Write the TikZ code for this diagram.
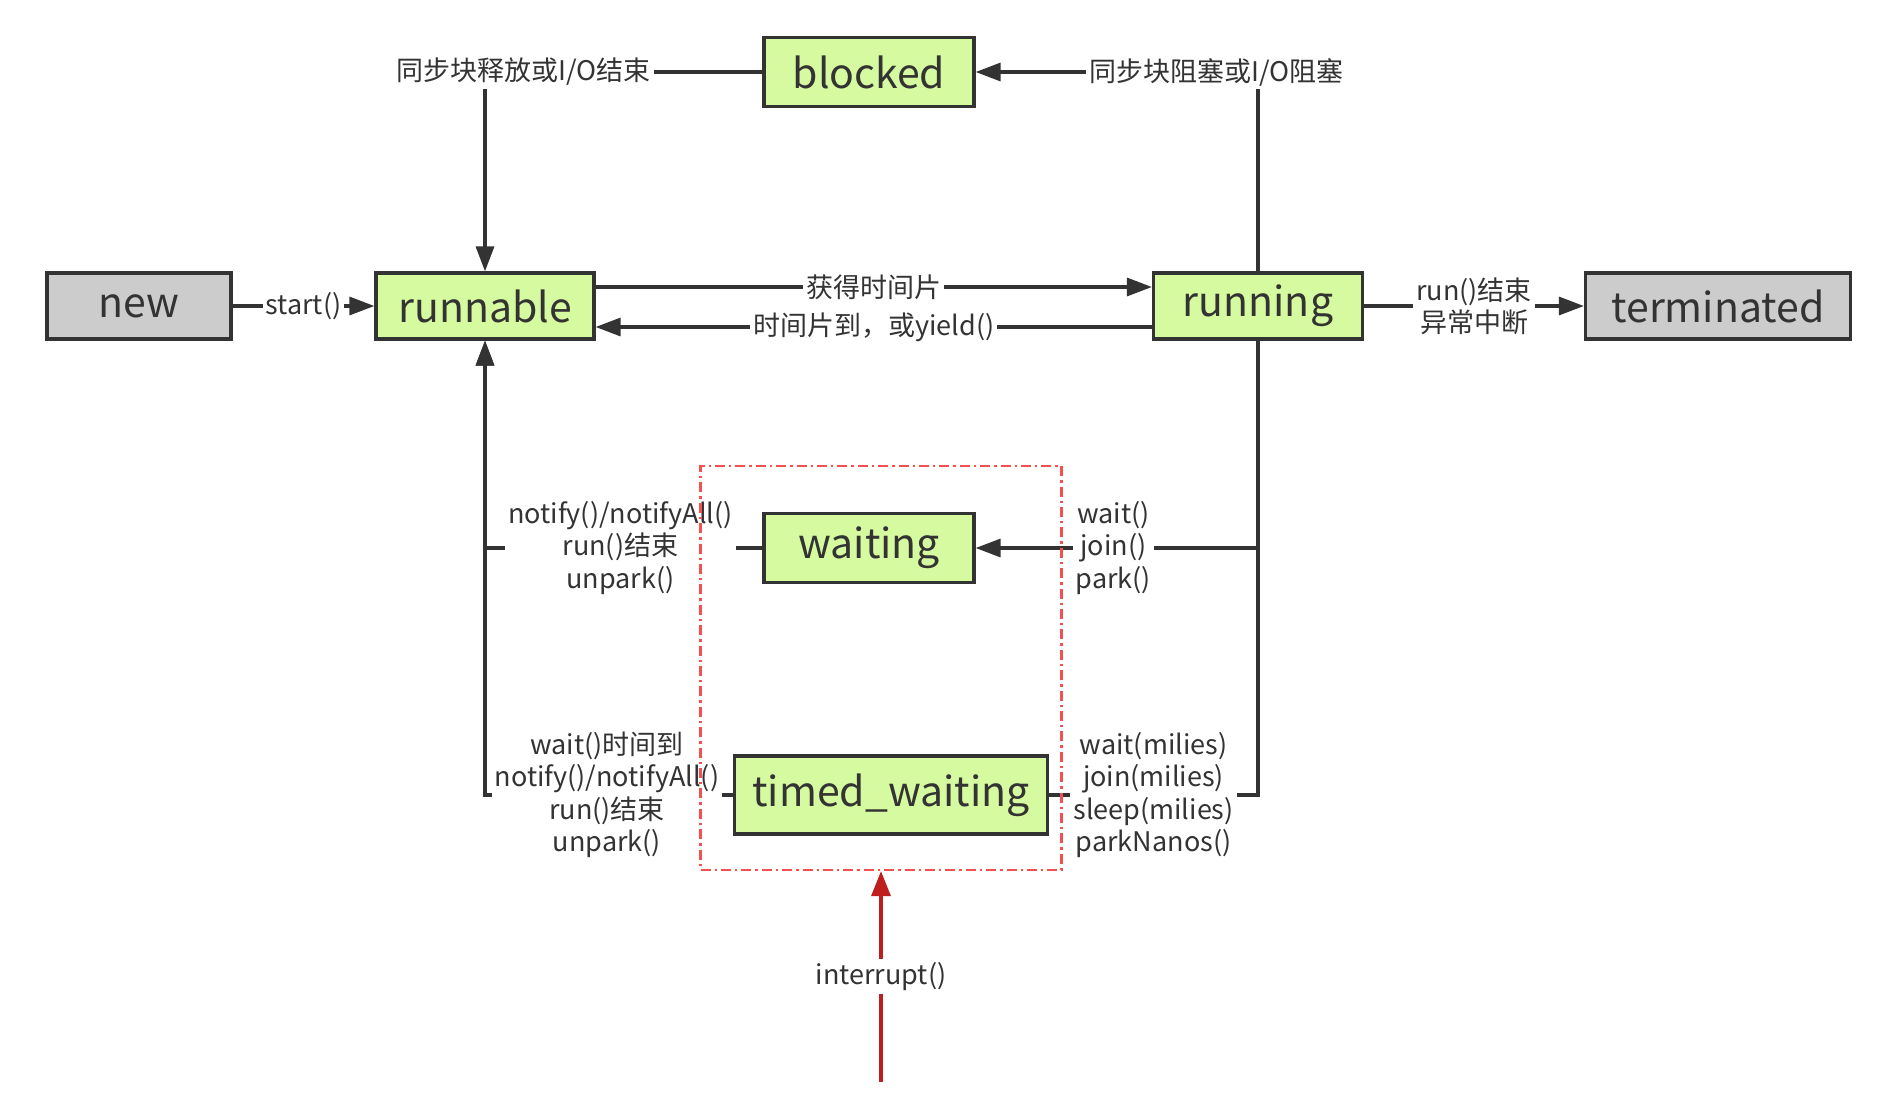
\documentclass[tikz,border=0pt]{standalone}
\usepackage{fontspec}
\setmainfont{Noto Sans CJK SC}
\usetikzlibrary{arrows.meta}
\definecolor{stategreen}{RGB}{214,250,160}
\definecolor{stategray}{RGB}{204,204,204}
\definecolor{inkgray}{RGB}{51,51,51}
\definecolor{framered}{RGB}{245,80,80}
\definecolor{irqred}{RGB}{190,30,30}
\tikzset{
  state/.style    = {shape=rectangle, draw=inkgray, line width=1.6pt,
                     fill=stategreen, text=inkgray, inner sep=0pt,
                     font=\fontsize{20.5}{24}\selectfont},
  endstate/.style = {state, fill=stategray},
  lbl/.style      = {fill=white, inner sep=1.5pt, align=center, text=inkgray,
                     font=\fontsize{13.5}{16.2}\selectfont},
  groupbox/.style = {draw=framered, line width=1.1pt,
                     dash pattern=on 5pt off 2pt on 1.2pt off 2pt}
}

\begin{document}
\begin{tikzpicture}
  [
    x = 0.5pt, y = -0.5pt,
    link/.style       = {draw=inkgray, line width=1.6pt},
    transition/.style = {link, -{Triangle[length=12.5pt,width=9pt]}},
    interrupt/.style  = {draw=irqred, line width=1.7pt,
                         -{Triangle[length=12.5pt,width=9.5pt]}}
  ]
  \fill [white] (0,0) rectangle (1884,1114);
  \useasboundingbox (0,0) rectangle (1884,1114);

  % states
  \node [endstate, minimum width=92pt, minimum height=33pt] (new) at (139,306) {new};
  \node [state, minimum width=109pt, minimum height=33pt] (runnable) at (485,306) {runnable};
  \node [state, minimum width=105pt, minimum height=34.5pt] (blocked) at (869,72) {blocked};
  \node [state, minimum width=104.5pt, minimum height=33pt] (running) at (1258,306) {running};
  \node [endstate, minimum width=132.5pt, minimum height=33pt] (terminated) at (1718,306) {terminated};
  \node [state, minimum width=105pt, minimum height=34.5pt] (waiting) at (869,548) {waiting};
  \node [state, minimum width=156.5pt, minimum height=39pt] (timed) at (891,795) {timed\_waiting};

  % transitions
  \draw [transition] (new) -- node [lbl] {start()} (runnable);
  \draw [transition] ([yshift=9.5pt]runnable.east) -- node [lbl] {获得时间片} ([yshift=9.5pt]running.west);
  \draw [transition] ([yshift=-10.5pt]running.west) -- node [lbl] {时间片到，或yield()} ([yshift=-10.5pt]runnable.east);
  \draw [transition] (running) -- node [lbl] {run()结束\\异常中断} (terminated);
  \draw [transition] (blocked.west) -| node [lbl, pos=0.43] {同步块释放或I/O结束} (runnable.north);
  \draw [transition] (running.north) |- node [lbl, pos=0.574] {同步块阻塞或I/O阻塞} (blocked.east);
  \draw [transition] (running.south) |- node [lbl, pos=0.756] {wait()\\join()\\park()} (waiting.east);
  \draw [link] (running.south) |- node [lbl, pos=0.75] {wait(milies)\\join(milies)\\sleep(milies)\\parkNanos()} (timed.east);
  \draw [transition] (waiting.west) -| node [lbl, pos=0.256] {notify()/notifyAll()\\run()结束\\unpark()} (runnable.south);
  \draw [transition] (timed.west) -| node [lbl, pos=0.254] {wait()时间到\\notify()/notifyAll()\\run()结束\\unpark()} (runnable.south);

  % waiting group and interrupt
  \node [groupbox, minimum width=180.5pt, minimum height=202pt] (grp) at (881,668) {};
  \coordinate (irq) at (881,1082);
  \draw [interrupt] (irq) -- node [lbl] {interrupt()} (grp.south);
\end{tikzpicture}
\end{document}
